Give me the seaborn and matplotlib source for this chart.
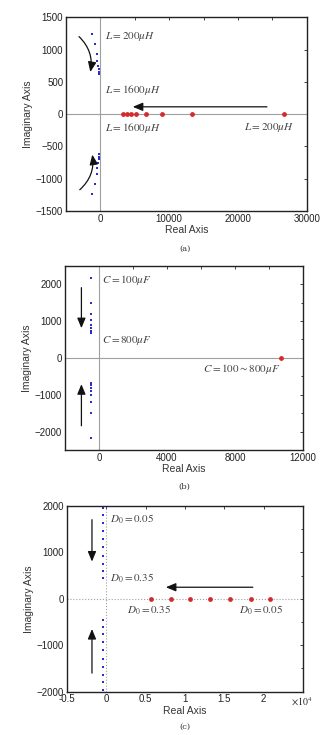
import numpy as np
import pandas as pd
import matplotlib
matplotlib.use("Agg")
import matplotlib.pyplot as plt
from matplotlib.ticker import MultipleLocator, FuncFormatter
import seaborn as sns

# ---------------- data ----------------
# (a) inductance sweep L = 200..1600 uH
a_blue_re = [-1260, -770, -540, -435, -300, -250, -190, -145]
a_blue_im = [1245, 1085, 930, 830, 750, 700, 660, 625]
a_red_re = [26700, 13300, 8900, 6600, 5200, 4400, 3800, 3300]
a_red_im = [0, 0, 0, 0, 0, 0, 0, 0]

# (b) capacitance sweep C = 100..800 uF
b_blue_re = [-500, -500, -500, -500, -500, -500, -500, -500]
b_blue_im = [2170, 1500, 1200, 1020, 900, 810, 740, 680]
b_red_re = [10700]
b_red_im = [0]

# (c) duty sweep D0 = 0.05..0.35
c_blue_re = [-400] * 10
c_blue_im = [1957, 1799, 1642, 1464, 1285, 1107, 928, 756, 600, 445]
c_red_re = [5670, 8190, 10700, 13220, 15740, 18350, 20870]
c_red_im = [0, 0, 0, 0, 0, 0, 0]

BLUE = "#2b2bd0"
RED = "#d42a2a"

sns.set_style("white")
plt.rcParams["font.family"] = ["Liberation Sans", "DejaVu Sans"]
plt.rcParams["mathtext.fontset"] = "stix"

fig = plt.figure(figsize=(3.21, 7.35), dpi=100)
ax_a = fig.add_axes([0.2056, 0.713, 0.7504, 0.2635])
ax_b = fig.add_axes([0.2025, 0.3878, 0.7415, 0.2507])
ax_c = fig.add_axes([0.2080, 0.0589, 0.7360, 0.2527])


def points(ax, re, im, conj, color, size, marker):
    re_all = list(re) + (list(re) if conj else [])
    im_all = list(im) + ([-v for v in im] if conj else [])
    df = pd.DataFrame({"re": re_all, "im": im_all})
    sns.scatterplot(data=df, x="re", y="im", ax=ax, color=color, s=size,
                    marker=marker, linewidth=0, zorder=3)


def style(ax, ls="-"):
    ax.axhline(0, color="#a0a0a0", lw=0.8, ls=ls, zorder=1)
    ax.axvline(0, color="#a0a0a0", lw=0.8, ls=ls, zorder=1)
    for s in ax.spines.values():
        s.set_color("#222222")
        s.set_linewidth(1.0)
    ax.tick_params(which="both", direction="in", top=True, right=True,
                   labelsize=7, colors="#222222", length=2.5, width=0.6,
                   pad=2)
    ax.tick_params(which="minor", length=1.8)
    ax.set_xlabel("Real Axis", fontsize=7.5, color="#333333", labelpad=1)
    ax.set_ylabel("Imaginary Axis", fontsize=7.5, color="#333333", labelpad=2)


def ann(ax, txt, x, y, **kw):
    ax.text(x, y, txt, fontsize=8, color="#444444", family="DejaVu Serif",
            style="italic", va="center", **kw)


def arrow(ax, start, end, rad=0.0):
    ax.annotate("", xy=end, xytext=start,
                arrowprops=dict(arrowstyle="-|>,head_length=0.6,head_width=0.25",
                                color="#111111", lw=0.9,
                                connectionstyle=f"arc3,rad={rad}"),
                zorder=4)


# ---------------- (a) ----------------
points(ax_a, a_blue_re, a_blue_im, True, BLUE, 3, "s")
points(ax_a, a_red_re, a_red_im, False, RED, 12, "o")
ax_a.set_xlim(-5000, 30000)
ax_a.set_ylim(-1500, 1500)
ax_a.xaxis.set_major_locator(MultipleLocator(10000))
ax_a.xaxis.set_minor_locator(MultipleLocator(5000))
ax_a.yaxis.set_major_locator(MultipleLocator(500))
style(ax_a)
ann(ax_a, r"$L=200\mu H$", 650, 1200)
ann(ax_a, r"$L=1600\mu H$", 650, 375)
ann(ax_a, r"$L=1600\mu H$", 650, -215)
ann(ax_a, r"$L=200\mu H$", 20800, -215)
arrow(ax_a, (-3400, 1230), (-1550, 610), rad=-0.3)
arrow(ax_a, (-3300, -1200), (-1250, -585), rad=0.3)
arrow(ax_a, (24600, 113), (4300, 113))
fig.text(0.575, 1 - 249 / 735, "(a)", fontsize=6, family="DejaVu Serif",
         ha="center", va="center", color="#333333")

# ---------------- (b) ----------------
points(ax_b, b_blue_re, b_blue_im, True, BLUE, 3, "s")
points(ax_b, b_red_re, b_red_im, False, RED, 12, "o")
ax_b.set_xlim(-2000, 12000)
ax_b.set_ylim(-2500, 2500)
ax_b.xaxis.set_major_locator(MultipleLocator(4000))
ax_b.xaxis.set_minor_locator(MultipleLocator(2000))
ax_b.yaxis.set_major_locator(MultipleLocator(1000))
ax_b.yaxis.set_minor_locator(MultipleLocator(500))
style(ax_b)
ann(ax_b, r"$C=100\mu F$", 150, 2100)
ann(ax_b, r"$C=800\mu F$", 150, 470)
ann(ax_b, r"$C=100\sim800\mu F$", 6100, -315)
arrow(ax_b, (-1035, 1980), (-1035, 730))
arrow(ax_b, (-1035, -1920), (-1035, -640))
fig.text(0.575, 1 - 487 / 735, "(b)", fontsize=6, family="DejaVu Serif",
         ha="center", va="center", color="#333333")

# ---------------- (c) ----------------
points(ax_c, c_blue_re, c_blue_im, True, BLUE, 3, "s")
points(ax_c, c_red_re, c_red_im, False, RED, 12, "o")
ax_c.set_xlim(-5000, 25000)
ax_c.set_ylim(-2000, 2000)
ax_c.xaxis.set_major_locator(MultipleLocator(5000))
ax_c.yaxis.set_major_locator(MultipleLocator(1000))
ax_c.yaxis.set_minor_locator(MultipleLocator(500))
ax_c.xaxis.set_major_formatter(
    FuncFormatter(lambda v, p: "" if v > 24000 else f"{v / 1e4:g}"))
style(ax_c, ls=":")
ax_c.text(0.995, -0.022, r"$\times10^4$", transform=ax_c.transAxes,
          fontsize=7, color="#222222", ha="center", va="top")
ann(ax_c, r"$D_0=0.05$", 500, 1720)
ann(ax_c, r"$D_0=0.35$", 500, 440)
ann(ax_c, r"$D_0=0.35$", 2600, -255)
ann(ax_c, r"$D_0=0.05$", 16900, -255)
arrow(ax_c, (-1800, 1765), (-1800, 743))
arrow(ax_c, (-1800, -1660), (-1800, -590))
arrow(ax_c, (18980, 250), (7230, 250))
fig.text(0.575, 1 - 727 / 735, "(c)", fontsize=6, family="DejaVu Serif",
         ha="center", va="center", color="#333333")

fig.savefig("out.png", dpi=100)
